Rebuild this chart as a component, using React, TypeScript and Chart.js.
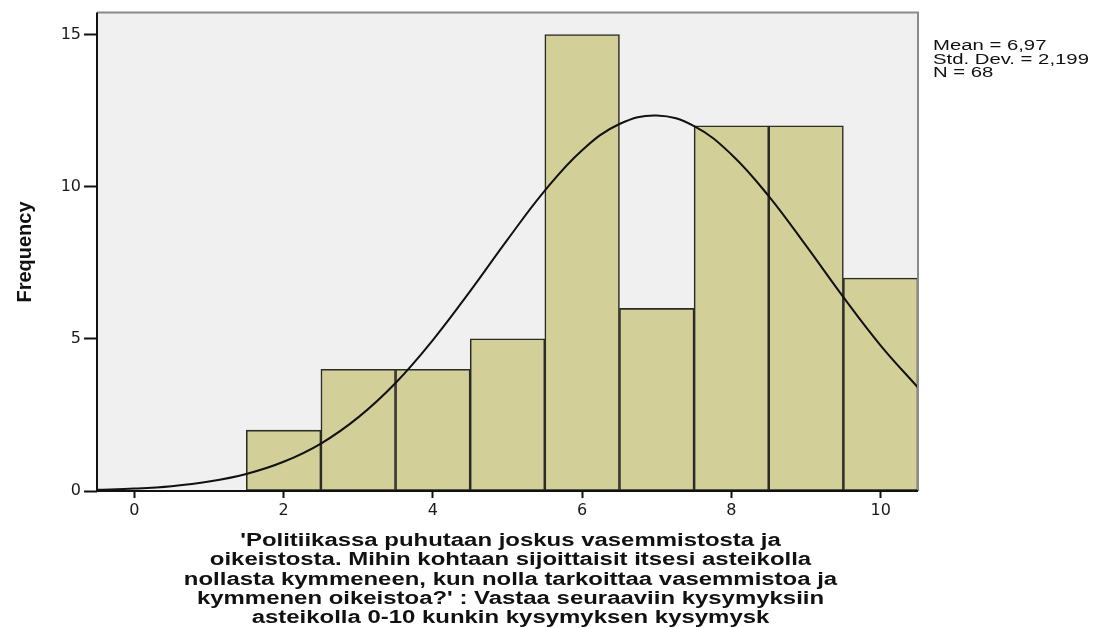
import React, { useEffect, useRef } from "react";
import { Chart, registerables } from "chart.js";

Chart.register(...registerables);

// Histogram data
const binCenters = [2, 3, 4, 5, 6, 7, 8, 9, 10];
const frequencies = [2, 4, 4, 5, 15, 6, 12, 12, 7];

// Normal curve
const curveX = [-0.5, 0, 0.5, 1, 1.5, 2, 2.5, 3, 3.5, 4, 4.5, 5, 5.5, 6, 6.5, 7, 7.5, 8, 8.5, 9, 9.5, 10, 10.5];
const curveY = [0.04, 0.08, 0.16, 0.31, 0.56, 0.96, 1.56, 2.42, 3.55, 4.96, 6.57, 8.26, 9.87, 11.2, 12.06, 12.34, 11.99, 11.06, 9.69, 8.06, 6.37, 4.78, 3.4];

const xTicks = [0, 2, 4, 6, 8, 10];
const yTicks = [0, 5, 10, 15];

const statsLines = ["Mean = 6,97", "Std. Dev. = 2,199", "N = 68"];
const yTitle = "Frequency";
const xTitleLines = [
  "'Politiikassa puhutaan joskus vasemmistosta ja",
  "oikeistosta. Mihin kohtaan sijoittaisit itsesi asteikolla",
  "nollasta kymmeneen, kun nolla tarkoittaa vasemmistoa ja",
  "kymmenen oikeistoa?' : Vastaa seuraaviin kysymyksiin",
  "asteikolla 0-10 kunkin kysymyksen kysymysk",
];

const W = 1107;
const H = 628;

const decorPlugin = {
  id: "decor",
  beforeDatasetsDraw(chart: any) {
    const { ctx, chartArea: a } = chart;
    ctx.save();
    ctx.fillStyle = "#f0f0f0";
    ctx.fillRect(a.left, a.top, a.right - a.left, a.bottom - a.top);
    ctx.restore();
  },
  afterDraw(chart: any) {
    const { ctx, chartArea: a } = chart;
    ctx.save();
    // frame (top/right gray)
    ctx.strokeStyle = "#8a8a8a";
    ctx.lineWidth = 2;
    ctx.beginPath();
    ctx.moveTo(a.left, a.top);
    ctx.lineTo(a.right, a.top);
    ctx.lineTo(a.right, a.bottom);
    ctx.stroke();
    ctx.strokeStyle = "#111";
    ctx.lineWidth = 2;
    ctx.beginPath();
    ctx.moveTo(a.left, a.top);
    ctx.lineTo(a.left, a.bottom);
    ctx.lineTo(a.right, a.bottom);
    ctx.stroke();

    // stats text
    ctx.fillStyle = "#111";
    ctx.font = "14px 'Liberation Sans', Arial, sans-serif";
    ctx.textBaseline = "alphabetic";
    ctx.textAlign = "left";
    const sx = 1.45;
    statsLines.forEach((t, i) => {
      ctx.save();
      ctx.translate(a.right + 15, 50 + i * 13.5);
      ctx.scale(sx, 1);
      ctx.fillText(t, 0, 0);
      ctx.restore();
    });

    // y title
    ctx.save();
    ctx.translate(25, 252);
    ctx.rotate(-Math.PI / 2);
    ctx.font = "bold 20px 'Liberation Sans Narrow', 'Liberation Sans', Arial, sans-serif";
    ctx.textAlign = "center";
    ctx.textBaseline = "middle";
    ctx.fillStyle = "#111";
    ctx.fillText(yTitle, 0, 0);
    ctx.restore();

    // x title
    ctx.font = "bold 18px 'Liberation Sans', Arial, sans-serif";
    ctx.textAlign = "center";
    ctx.textBaseline = "middle";
    const cx = (a.left + a.right) / 2 + 3;
    xTitleLines.forEach((t, i) => {
      ctx.save();
      ctx.translate(cx, 541 + i * 19.3);
      ctx.scale(1.33, 1);
      ctx.fillText(t, 0, 0);
      ctx.restore();
    });
    ctx.restore();
  },
};

export default function App() {
  const ref = useRef<HTMLCanvasElement | null>(null);

  useEffect(() => {
    if (!ref.current) return;
    const chart = new Chart(ref.current, {
      type: "bar",
      data: {
        datasets: [
          {
            type: "line",
            data: curveX.map((x, i) => ({ x, y: curveY[i] })),
            borderColor: "#111",
            borderWidth: 2,
            pointRadius: 0,
            tension: 0.4,
            fill: false,
            order: 0,
          } as any,
          {
            type: "bar",
            data: binCenters.map((x, i) => ({ x, y: frequencies[i] })),
            backgroundColor: "#d3cf98",
            borderColor: "#2b2b27",
            borderWidth: 1.6,
            borderSkipped: false,
            barPercentage: 1,
            categoryPercentage: 1,
            order: 1,
          } as any,
        ],
      },
      options: {
        animation: false,
        responsive: false,
        maintainAspectRatio: false,
        layout: { padding: { left: 0, top: 12, right: W - 918, bottom: 0 } },
        plugins: { legend: { display: false }, tooltip: { enabled: false } },
        scales: {
          x: {
            type: "linear",
            min: -0.5,
            max: 10.5,
            offset: false,
            afterBuildTicks: (s: any) => {
              s.ticks = xTicks.map((v) => ({ value: v }));
            },
            afterFit: (s: any) => {
              s.height = H - 491;
            },
            grid: { display: true, offset: false, drawOnChartArea: false, tickLength: 7, tickColor: "#111", tickWidth: 2 },
            border: { display: false },
            ticks: { color: "#1a1a1a", font: { size: 16, family: "'DejaVu Sans', Arial, sans-serif" }, padding: 3, maxRotation: 0 },
          },
          y: {
            type: "linear",
            min: 0,
            max: 15.72,
            afterBuildTicks: (s: any) => {
              s.ticks = yTicks.map((v) => ({ value: v }));
            },
            afterFit: (s: any) => {
              s.width = 97;
            },
            grid: { display: true, drawOnChartArea: false, tickLength: 13, tickColor: "#111", tickWidth: 2 },
            border: { display: false },
            ticks: { color: "#1a1a1a", font: { size: 16, family: "'DejaVu Sans', Arial, sans-serif" }, padding: 3 },
          },
        },
      },
      plugins: [decorPlugin],
    } as any);
    return () => chart.destroy();
  }, []);

  return (
    <div style={{ position: "absolute", left: 0, top: 0, width: W, height: H, background: "#fff" }}>
      <canvas ref={ref} width={W} height={H} style={{ width: W, height: H, display: "block" }} />
    </div>
  );
}
